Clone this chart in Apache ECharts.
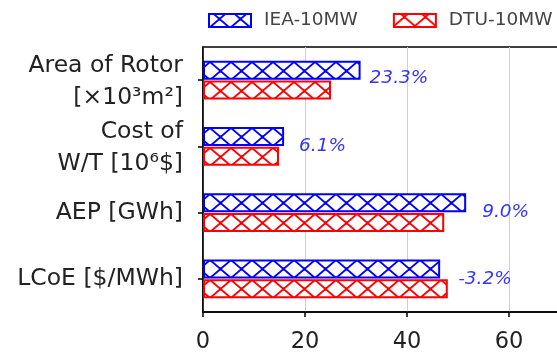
<!DOCTYPE html>
<html><head><meta charset="utf-8">
<script src="https://cdn.jsdelivr.net/npm/echarts@6/dist/echarts.min.js"></script>
<style>html,body{margin:0;padding:0;background:#fff}#c{width:557px;height:352px}</style>
</head><body><div id="c"></div>
<script>
const categories = ['Area of Rotor\n[×10³m²]', 'Cost of\nW/T [10⁶$]', 'AEP [GWh]', 'LCoE [$/MWh]'];
const ieaValues = [30.9, 15.9, 51.6, 46.5];
const dtuValues = [25.1, 14.9, 47.3, 48.0];
const pctLabels = ['23.3%', '6.1%', '9.0%', '-3.2%'];
const xTicks = [0, 20, 40, 60];

function hatch(color, cy) {
  const w = 21, h = 22;
  const c = document.createElement('canvas');
  c.width = w; c.height = h;
  const g = c.getContext('2d');
  g.fillStyle = '#fff'; g.fillRect(0, 0, w, h);
  g.strokeStyle = color; g.lineWidth = 1.8;
  g.beginPath();
  for (const k of [-h, 0, h]) {
    const y = cy + k;
    g.moveTo(0, y - 9); g.lineTo(w, y + 9);
    g.moveTo(0, y + 9); g.lineTo(w, y - 9);
  }
  g.stroke();
  g.fillStyle = color;
  for (const k of [-h, 0, h]) {
    g.fillRect(w / 2 - 1.5, cy + k - 1.5, 3, 3);
  }
  return {image: c, repeat: 'repeat'};
}

const labelOffsets = [[9, 8], [15, 10], [16, 10], [18, 10]];
const font = 'DejaVu Sans';
const yLabelStyle = {fontSize: 23.5, color: '#222', fontFamily: font, lineHeight: 35};
const chart = echarts.init(document.getElementById('c'), null, {renderer: 'canvas'});
chart.setOption({
  animation: false,
  textStyle: {fontFamily: font},
  legend: {
    left: 208, top: 11, width: 400, padding: 0,
    icon: 'rect',
    itemWidth: 42, itemHeight: 13, itemGap: 35,
    textStyle: {fontSize: 18.5, color: '#444', fontFamily: font, padding: [0, 0, 0, 8]},
    data: ['IEA-10MW', 'DTU-10MW']
  },
  grid: {left: 203, top: 47, width: 408, height: 265, show: true, borderColor: '#000', borderWidth: 1.5,
    containLabel: false, outerBoundsMode: 'none'},
  xAxis: {
    type: 'value', min: 0, max: 80, interval: 20,
    axisLine: {show: true, lineStyle: {color: '#000', width: 1.5}},
    axisTick: {show: true, length: 5, inside: false, lineStyle: {color: '#000', width: 1.5}},
    axisLabel: {fontSize: 22.5, color: '#222', margin: 19, fontFamily: font,
      formatter: v => xTicks.includes(v) ? String(v) : ''},
    splitLine: {show: true, lineStyle: {color: '#d0d0d0', width: 1}}
  },
  yAxis: {
    type: 'category', inverse: true, data: categories,
    axisLine: {show: true, lineStyle: {color: '#000', width: 1.5}},
    axisTick: {show: true, length: 5, alignWithLabel: true, interval: 0, lineStyle: {color: '#000', width: 1.5}},
    axisLabel: {fontSize: 23.5, color: '#222', margin: 20, lineHeight: 35, align: 'right', interval: 0,
      hideOverlap: false, fontFamily: font,
      formatter: v => v.includes('\n')
        ? v.split('\n').map((l, i) => '{' + (i === 0 ? 'f' : 's') + '|' + l + '}').join('\n')
        : v,
      rich: {
        f: Object.assign({}, yLabelStyle, {padding: [6, 0, 0, 0]}),
        s: Object.assign({}, yLabelStyle)
      }
    }
  },
  series: [
    {
      name: 'IEA-10MW', type: 'bar', data: ieaValues.map((v, i) => ({
        value: v,
        label: {offset: labelOffsets[i]}
      })),
      barWidth: 19, barGap: '5%',
      itemStyle: {color: hatch('#0000ff', 5), borderColor: '#0000ff', borderWidth: 2},
      label: {show: true, position: 'right', distance: 0,
        formatter: p => pctLabels[p.dataIndex],
        fontStyle: 'italic', fontSize: 18.5, color: '#3535f5', fontFamily: font}
    },
    {
      name: 'DTU-10MW', type: 'bar', data: dtuValues,
      barWidth: 19, barGap: '5%',
      itemStyle: {color: hatch('#ff0000', 3), borderColor: '#ff0000', borderWidth: 2}
    }
  ]
});
</script></body></html>
